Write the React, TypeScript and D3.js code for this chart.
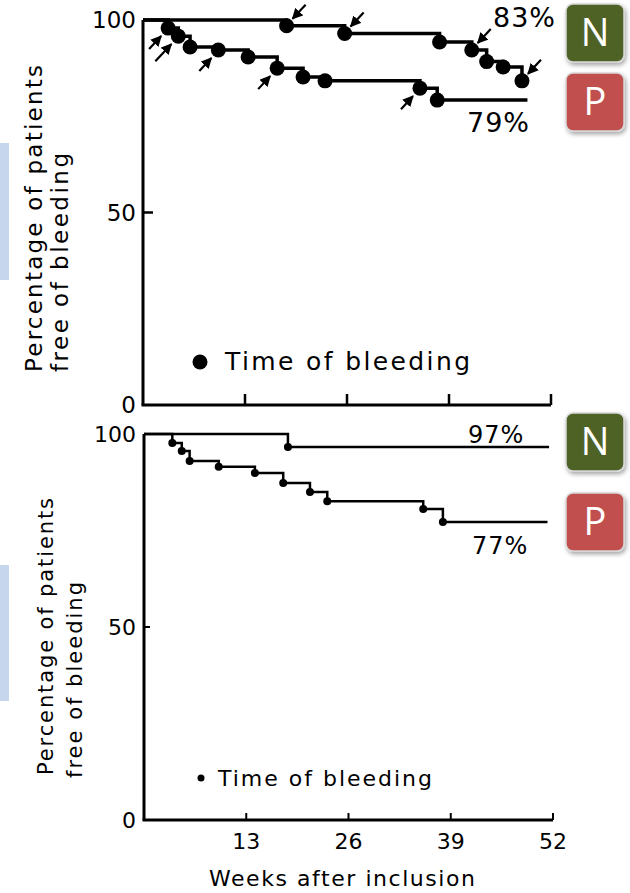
import React from "react";
import * as d3 from "d3";

// ---------- data ----------
const xTicks = [13, 26, 39, 52];
const yTicks = [0, 50, 100];

// Top panel (large dots, arrows)
const topNWeeks = [18.3, 25.7, 37.8, 41.9, 43.8, 45.9, 48.3];
const topNPct = [98.5, 96.5, 94.3, 92.2, 89.2, 87.8, 84.2];
const topNEnd = 48.6;
const topNArrowIdx = [0, 1, 3, 6];

const topPWeeks = [3.2, 4.5, 6.0, 9.6, 13.4, 17.1, 20.4, 23.2, 35.3, 37.5];
const topPPct = [97.9, 95.8, 93.0, 92.2, 90.4, 87.5, 85.2, 84.2, 82.3, 79.2];
const topPEnd = 49.0;
const topPArrowIdx = [0, 1, 3, 5, 8];

// Bottom panel (small dots)
const botNWeeks = [18.3];
const botNPct = [96.6];
const botNEnd = 51.5;

const botPWeeks = [3.6, 4.8, 5.8, 9.5, 14.1, 17.7, 21.1, 23.3, 35.5, 38.0];
const botPPct = [97.7, 95.6, 93.0, 91.5, 89.9, 87.3, 85.0, 82.6, 80.6, 77.2];
const botPEnd = 51.3;

const topLabels = ["83%", "79%"];
const botLabels = ["97%", "77%"];
const badgeLetters = ["N", "P"];
const legendText = "Time of bleeding";
const yTitle = ["Percentage of patients", "free of bleeding"];
const xTitle = "Weeks after inclusion";

const FONT = "'DejaVu Sans', sans-serif";

type Pt = [number, number];
function series(weeks: number[], pct: number[], end: number): Pt[] {
  const pts: Pt[] = [[0, 100]];
  weeks.forEach((w, i) => pts.push([w, pct[i]]));
  pts.push([end, pct[pct.length - 1]]);
  return pts;
}

function Badge({ x, y, letter, fill }: { x: number; y: number; letter: string; fill: string }) {
  return (
    <g>
      <rect x={x} y={y} width={58} height={58} rx={7} fill={fill} stroke="#d8d8d8" strokeWidth={1.5} filter="url(#shadow)" />
      <text x={x + 29} y={y + 42} textAnchor="middle" fontFamily="'Open Sans', sans-serif" fontSize={38} fill="#fff">
        {letter}
      </text>
    </g>
  );
}

export default function App() {
  const topX = d3.scaleLinear().domain([0, 52]).range([143, 551]);
  const topY = d3.scaleLinear().domain([0, 100]).range([405, 20]);
  const botX = d3.scaleLinear().domain([0, 52]).range([144, 553]);
  const botY = d3.scaleLinear().domain([0, 100]).range([820, 434]);

  const lineTop = d3
    .line<Pt>()
    .x((d) => topX(d[0]))
    .y((d) => topY(d[1]))
    .curve(d3.curveStepAfter);
  const lineBot = d3
    .line<Pt>()
    .x((d) => botX(d[0]))
    .y((d) => botY(d[1]))
    .curve(d3.curveStepAfter);

  const tN = series(topNWeeks, topNPct, topNEnd);
  const tP = series(topPWeeks, topPPct, topPEnd);
  const bN = series(botNWeeks, botNPct, botNEnd);
  const bP = series(botPWeeks, botPPct, botPEnd);

  return (
    <svg
      width={630}
      height={893}
      viewBox="0 0 630 893"
      style={{ position: "absolute", left: 0, top: 0, background: "#fff" }}
    >
      <defs>
        <filter id="shadow" x="-20%" y="-20%" width="150%" height="150%">
          <feDropShadow dx="1.5" dy="2.5" stdDeviation="2" floodColor="#000" floodOpacity="0.35" />
        </filter>
        <marker id="ah" viewBox="0 0 10 10" refX="9" refY="5" markerWidth="5" markerHeight="5" orient="auto">
          <path d="M0,0 L10,5 L0,10 z" fill="#000" />
        </marker>
      </defs>

      {/* blue side marks */}
      <rect x={0} y={143} width={9} height={137} fill="#c6d6ec" />
      <rect x={0} y={565} width={9} height={136} fill="#c6d6ec" />

      {/* ---------- TOP PANEL ---------- */}
      <g>
        <line x1={topX(0)} x2={topX(0)} y1={topY(0)} y2={topY(100)} stroke="#000" strokeWidth={3} />
        <line x1={topX(0) - 1.5} x2={topX(52)} y1={topY(0)} y2={topY(0)} stroke="#000" strokeWidth={3} />
        {xTicks.map((t) => (
          <line key={t} x1={topX(t)} x2={topX(t)} y1={topY(0)} y2={topY(0) - 11} stroke="#000" strokeWidth={2.5} />
        ))}
        <line x1={topX(0)} x2={topX(0) + 10} y1={topY(50)} y2={topY(50)} stroke="#000" strokeWidth={2.5} />
        {yTicks.map((t) => (
          <text key={t} x={topX(0) - 7} y={topY(t) + 8} textAnchor="end" fontFamily={FONT} fontSize={23} fill="#000">
            {t}
          </text>
        ))}

        <path d={lineTop(tN) || ""} fill="none" stroke="#000" strokeWidth={3.5} />
        <path d={lineTop(tP) || ""} fill="none" stroke="#000" strokeWidth={3.5} />
        {topNWeeks.map((w, i) => (
          <circle key={"tn" + i} cx={topX(w)} cy={topY(topNPct[i])} r={7.5} fill="#000" />
        ))}
        {topPWeeks.map((w, i) => (
          <circle key={"tp" + i} cx={topX(w)} cy={topY(topPPct[i])} r={7.5} fill="#000" />
        ))}
        {topNArrowIdx.map((i) => {
          const cx = topX(topNWeeks[i]);
          const cy = topY(topNPct[i]);
          return (
            <line key={"an" + i} x1={cx + 19} y1={cy - 21} x2={cx + 6} y2={cy - 7} stroke="#000" strokeWidth={2.2} markerEnd="url(#ah)" />
          );
        })}
        {topPArrowIdx.map((i) => {
          const cx = topX(topPWeeks[i]);
          const cy = topY(topPPct[i]);
          const off = i === 1 ? 4 : 0;
          return (
            <line key={"ap" + i} x1={cx - 19 - off} y1={cy + 21 + off} x2={cx - 7} y2={cy + 8} stroke="#000" strokeWidth={2.2} markerEnd="url(#ah)" />
          );
        })}

        <text x={493} y={27} fontFamily={FONT} fontSize={27} letterSpacing={1} fill="#000">
          {topLabels[0]}
        </text>
        <text x={467} y={132} fontFamily={FONT} fontSize={27} letterSpacing={1} fill="#000">
          {topLabels[1]}
        </text>

        <circle cx={200} cy={362} r={7.5} fill="#000" />
        <text x={225} y={370} fontFamily={FONT} fontSize={25} textLength={245} lengthAdjust="spacing" fill="#000">
          {legendText}
        </text>

        <text transform="translate(42,372) rotate(-90)" fontFamily={FONT} fontSize={23} textLength={307} lengthAdjust="spacing" fill="#000">
          {yTitle[0]}
        </text>
        <text transform="translate(68,372) rotate(-90)" fontFamily={FONT} fontSize={23} textLength={219} lengthAdjust="spacing" fill="#000">
          {yTitle[1]}
        </text>
      </g>

      {/* ---------- BOTTOM PANEL ---------- */}
      <g>
        <line x1={botX(0)} x2={botX(0)} y1={botY(0)} y2={botY(100)} stroke="#000" strokeWidth={3} />
        <line x1={botX(0) - 1.5} x2={botX(52)} y1={botY(0)} y2={botY(0)} stroke="#000" strokeWidth={3} />
        {xTicks.map((t) => (
          <line key={t} x1={botX(t)} x2={botX(t)} y1={botY(0)} y2={botY(0) - 7} stroke="#000" strokeWidth={2} />
        ))}
        <line x1={botX(0)} x2={botX(0) + 6} y1={botY(50)} y2={botY(50)} stroke="#000" strokeWidth={2} />
        {yTicks.map((t) => (
          <text key={t} x={botX(0) - 8} y={botY(t) + 8} textAnchor="end" fontFamily={FONT} fontSize={22} fill="#000">
            {t}
          </text>
        ))}
        {xTicks.map((t) => (
          <text key={"xl" + t} x={botX(t)} y={849} textAnchor="middle" fontFamily={FONT} fontSize={22} fill="#000">
            {t}
          </text>
        ))}
        <text x={342} y={886} textAnchor="middle" fontFamily={FONT} fontSize={22} textLength={266} lengthAdjust="spacing" fill="#000">
          {xTitle}
        </text>

        <path d={lineBot(bN) || ""} fill="none" stroke="#000" strokeWidth={2.5} />
        <path d={lineBot(bP) || ""} fill="none" stroke="#000" strokeWidth={2.5} />
        {botNWeeks.map((w, i) => (
          <circle key={"bn" + i} cx={botX(w)} cy={botY(botNPct[i])} r={4} fill="#000" />
        ))}
        {botPWeeks.map((w, i) => (
          <circle key={"bp" + i} cx={botX(w)} cy={botY(botPPct[i])} r={4} fill="#000" />
        ))}

        <text x={468} y={443} fontFamily={FONT} fontSize={24} letterSpacing={1} fill="#000">
          {botLabels[0]}
        </text>
        <text x={472} y={554} fontFamily={FONT} fontSize={24} letterSpacing={1} fill="#000">
          {botLabels[1]}
        </text>

        <circle cx={201} cy={778} r={3.5} fill="#000" />
        <text x={218} y={786} fontFamily={FONT} fontSize={22} textLength={214} lengthAdjust="spacing" fill="#000">
          {legendText}
        </text>

        <text transform="translate(53,775) rotate(-90)" fontFamily={FONT} fontSize={21} textLength={277} lengthAdjust="spacing" fill="#000">
          {yTitle[0]}
        </text>
        <text transform="translate(82,778) rotate(-90)" fontFamily={FONT} fontSize={21} textLength={196} lengthAdjust="spacing" fill="#000">
          {yTitle[1]}
        </text>
      </g>

      {/* badges */}
      <Badge x={566} y={4} letter={badgeLetters[0]} fill="#4f6228" />
      <Badge x={566} y={73} letter={badgeLetters[1]} fill="#c0504d" />
      <Badge x={566} y={413} letter={badgeLetters[0]} fill="#4f6228" />
      <Badge x={566} y={493} letter={badgeLetters[1]} fill="#c0504d" />
    </svg>
  );
}
